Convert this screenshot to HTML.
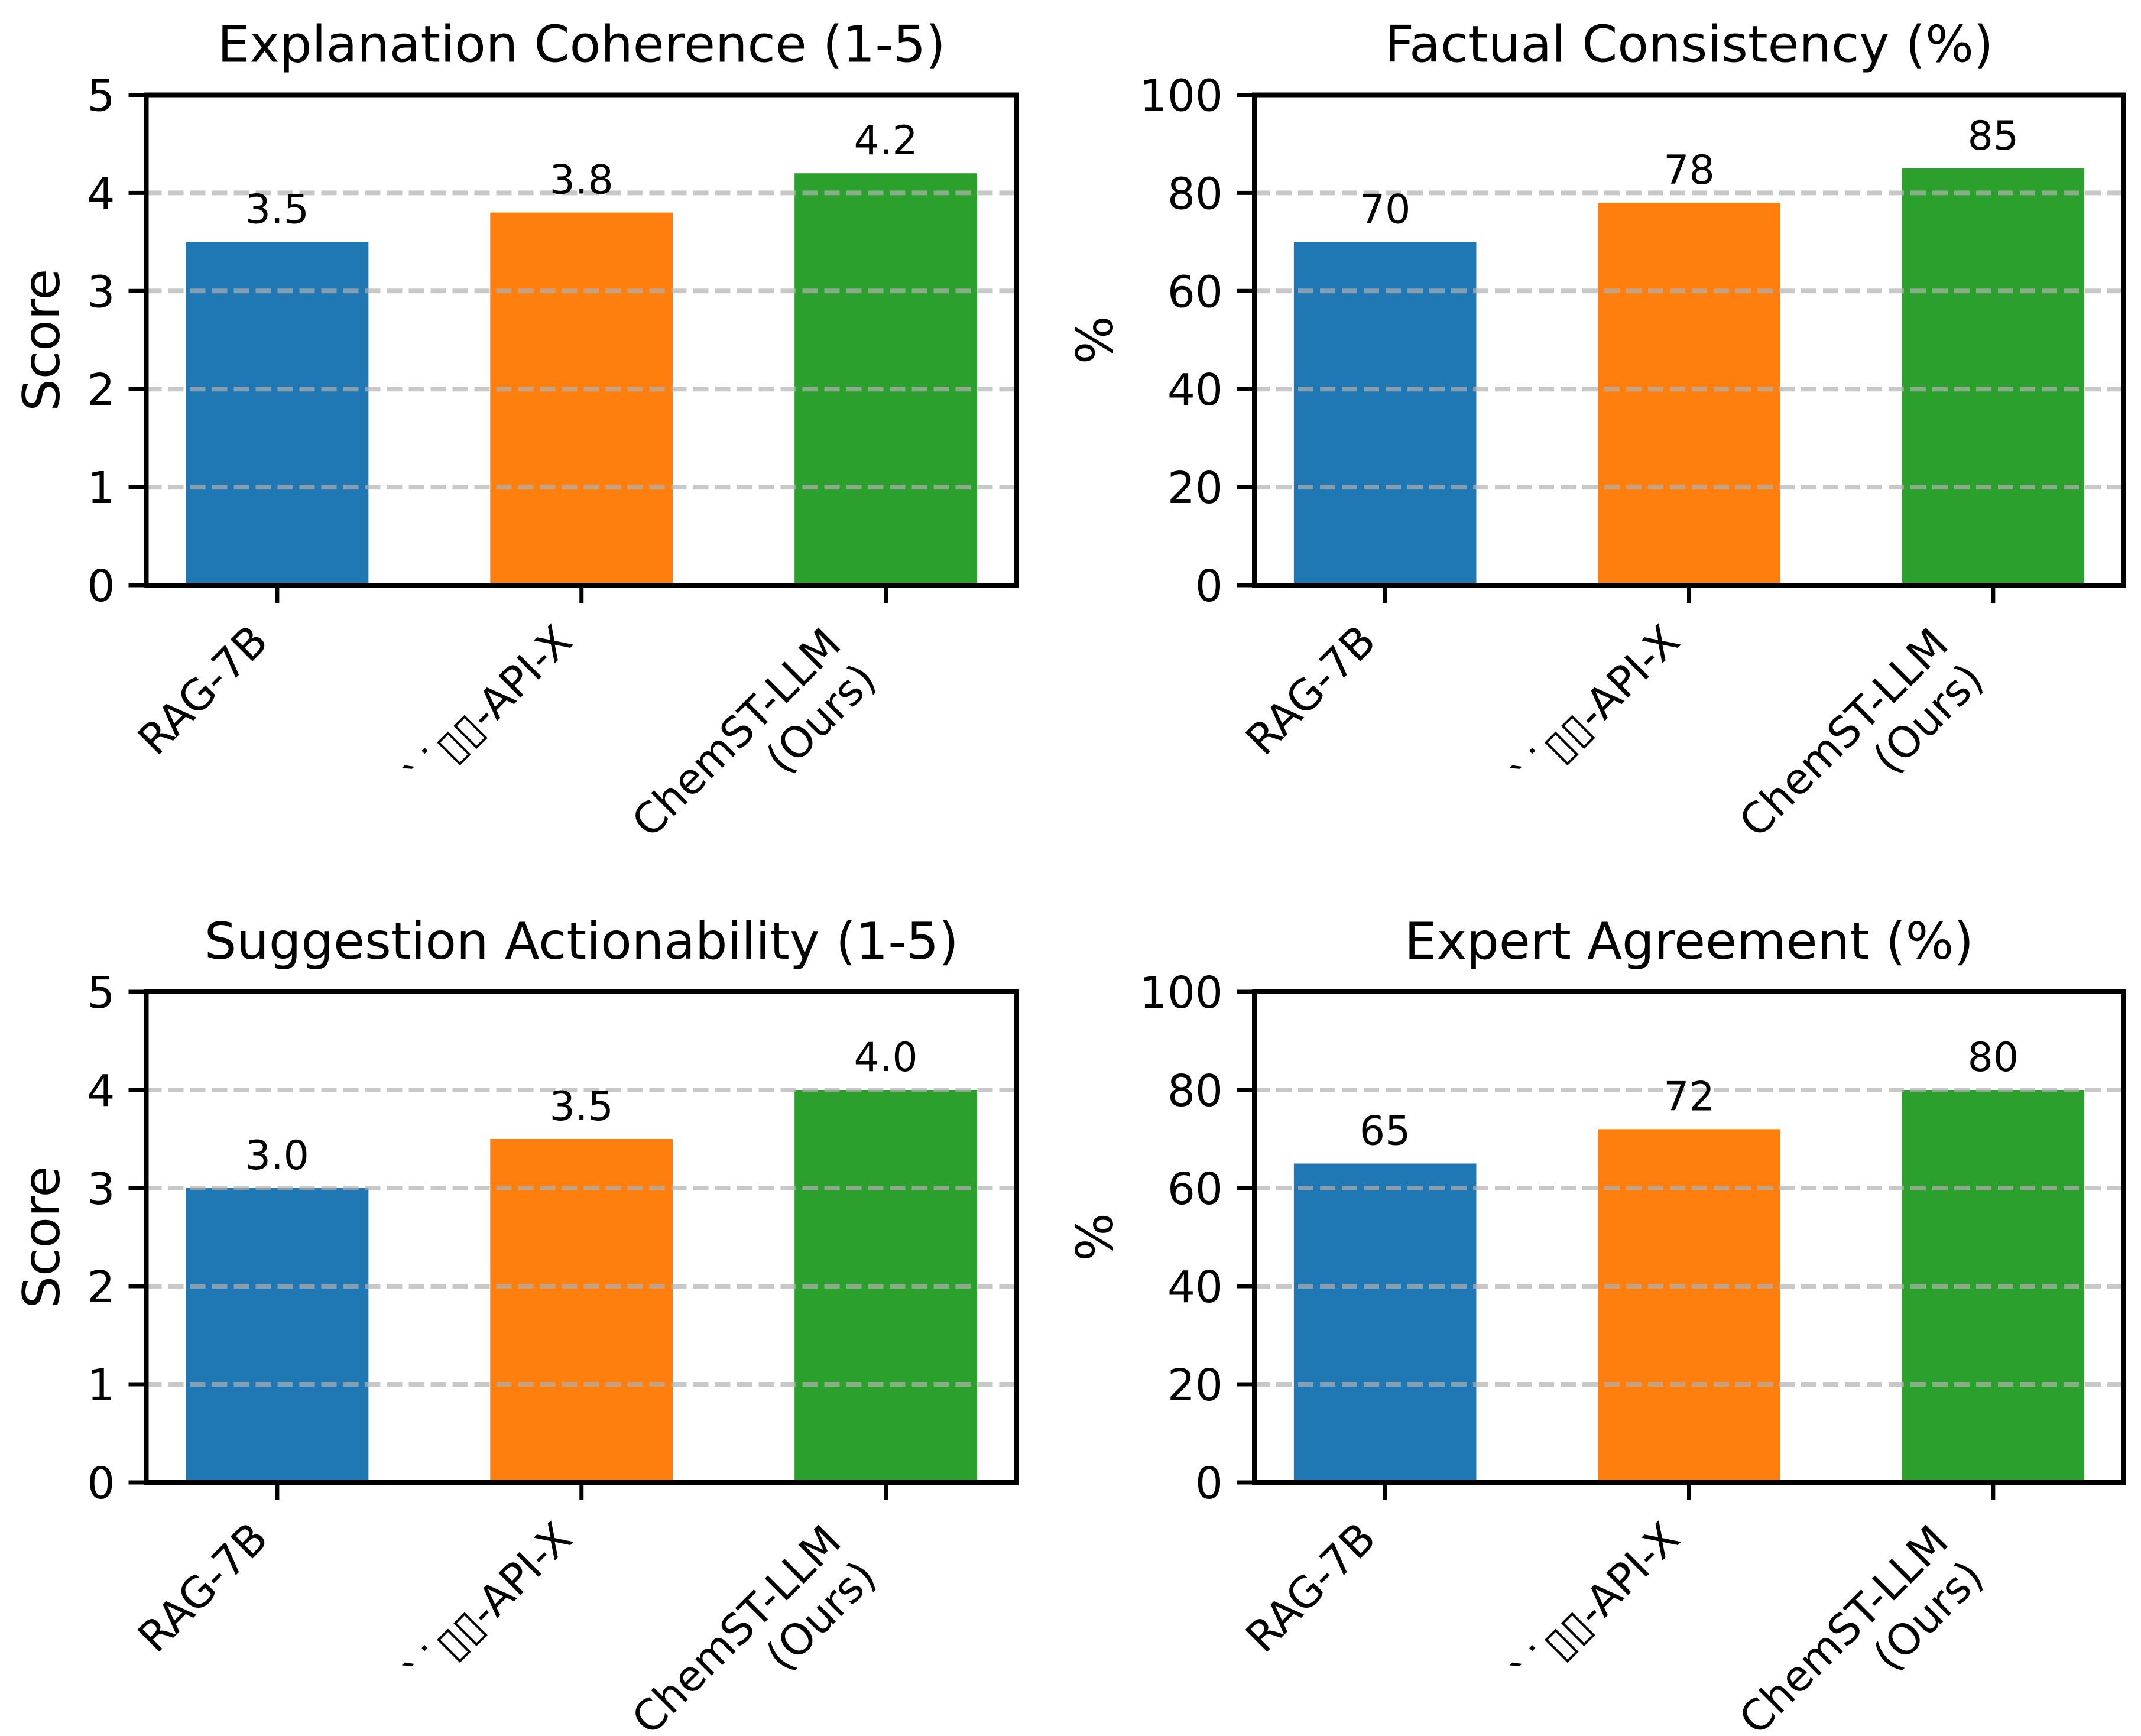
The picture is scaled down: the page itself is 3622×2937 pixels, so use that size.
<!DOCTYPE html>
<html><head><meta charset="utf-8">
<style>
html,body{margin:0;padding:0;background:#fff;}
svg{display:block;font-family:"DejaVu Sans","Liberation Sans","Noto Sans CJK SC",sans-serif;}
</style></head>
<body>
<svg id="fig" width="3622" height="2937" viewBox="0 0 3622 2937" xmlns="http://www.w3.org/2000/svg"></svg>
<script>
const categories = ["RAG-7B", "`˙▯▯-API-X", "ChemST-LLM\n(Ours)"];
const coherenceValues = [3.5, 3.8, 4.2];
const factualValues = [70, 78, 85];
const actionabilityValues = [3.0, 3.5, 4.0];
const agreementValues = [65, 72, 80];
const scoreTicks = [0, 1, 2, 3, 4, 5];
const percentTicks = [0, 20, 40, 60, 80, 100];
const panelTitles = ["Explanation Coherence (1-5)", "Factual Consistency (%)", "Suggestion Actionability (1-5)", "Expert Agreement (%)"];
const yLabels = ["Score", "%", "Score", "%"];
const colors = ["#1f77b4", "#ff7f0e", "#2ca02c"];

const NS = "http://www.w3.org/2000/svg";
const svg = document.getElementById("fig");
function mk(tag, attrs, parent){
  const e = document.createElementNS(NS, tag);
  for (const k in attrs) e.setAttribute(k, attrs[k]);
  (parent || svg).appendChild(e);
  return e;
}

const panels = [
  {x0:247.5, x1:1720, y0:160.5, y1:990, vals:coherenceValues, ticks:scoreTicks, ymax:5, dec:1, slug:"coherence"},
  {x0:2122, x1:3593, y0:160.5, y1:990, vals:factualValues, ticks:percentTicks, ymax:100, dec:0, slug:"factual"},
  {x0:247.5, x1:1720, y0:1678, y1:2508, vals:actionabilityValues, ticks:scoreTicks, ymax:5, dec:1, slug:"actionability"},
  {x0:2122, x1:3593, y0:1678, y1:2508, vals:agreementValues, ticks:percentTicks, ymax:100, dec:0, slug:"agreement"}
];

panels.forEach((p, pi) => {
  const g = mk("g", {});
  
  
  const xmin = -0.43, xmax = 2.43;
  const xs = v => p.x0 + (v - xmin) / (xmax - xmin) * (p.x1 - p.x0);
  const ys = v => p.y1 - v / p.ymax * (p.y1 - p.y0);

  p.vals.forEach((v, i) => {
    const r = mk("rect", {x: xs(i - 0.3), y: ys(v), width: xs(i + 0.3) - xs(i - 0.3), height: ys(0) - ys(v), fill: colors[i]}, g);
    
    
  });
  p.ticks.forEach(t => {
    if (t === 0) return;
    const l = mk("line", {x1: p.x0, x2: p.x1, y1: ys(t), y2: ys(t), stroke: "#b0b0b0", "stroke-opacity": 0.7, "stroke-width": 8, "stroke-dasharray": "26 11"}, g);
    
    
  });
  p.vals.forEach((v, i) => {
    const t = mk("text", {x: xs(i), y: ys(v) - 32, "text-anchor": "middle", "font-size": 68, fill: "#000"}, g);
    t.textContent = v.toFixed(p.dec);
    
    
  });
  const sp = mk("rect", {x: p.x0, y: p.y0, width: p.x1 - p.x0, height: p.y1 - p.y0, fill: "none", stroke: "#000", "stroke-width": 8}, g);
  
  
  p.ticks.forEach(t => {
    const y = ys(t);
    const tl = mk("line", {x1: p.x0 - 30, x2: p.x0, y1: y, y2: y, stroke: "#000", "stroke-width": 7}, g);
    
    
    const tx = mk("text", {x: p.x0 - 53, y: y + 27, "text-anchor": "end", "font-size": 74}, g);
    tx.textContent = String(t);
    
    
  });
  categories.forEach((c, i) => {
    const x = xs(i);
    const tl = mk("line", {x1: x, x2: x, y1: p.y1, y2: p.y1 + 30, stroke: "#000", "stroke-width": 7}, g);
    
    
    const lines = c.split("\n");
    const multi = lines.length > 1;
    const px = multi ? x - 72 : x - 12;
    const py = multi ? p.y1 + 104 : p.y1 + 99;
    const lg = mk("g", {transform: `translate(${px},${py}) rotate(-45)`}, g);
    
    
    lines.forEach((ln, k) => {
      const t = mk("text", {x: 0, y: 84 * k, "text-anchor": "end", "font-size": 72}, lg);
      t.textContent = ln;
    });
  });
  const tt = mk("text", {x: (p.x0 + p.x1) / 2, y: p.y0 - 56, "text-anchor": "middle", "font-size": 86}, g);
  tt.textContent = panelTitles[pi];
  
  
  const bx = pi % 2 === 0 ? 100 : 1882;
  const cy = (p.y0 + p.y1) / 2;
  const yl = mk("text", {x: 0, y: 0, transform: `translate(${bx},${cy}) rotate(-90)`, "text-anchor": "middle", "font-size": 86}, g);
  yl.textContent = yLabels[pi];
  
  
});
</script>
</body></html>
